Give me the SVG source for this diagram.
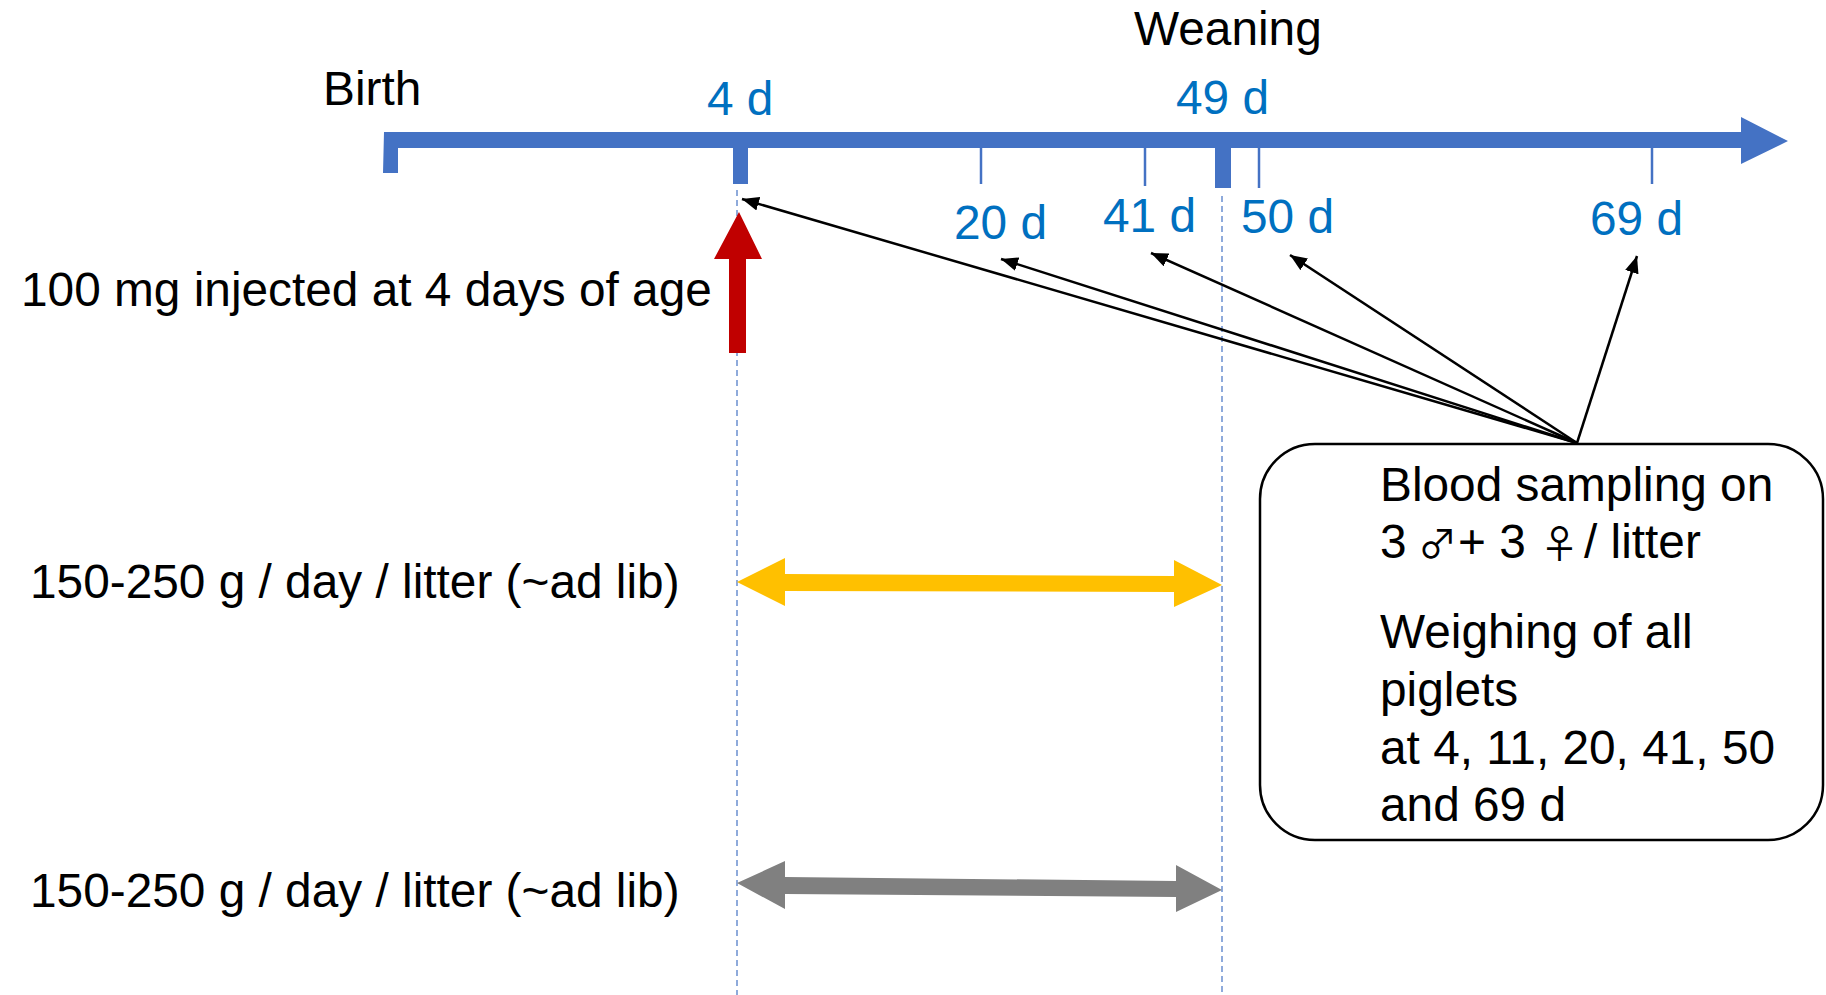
<svg xmlns="http://www.w3.org/2000/svg" width="1826" height="995" viewBox="0 0 1826 995">
  <style>
    text { font-family: "Liberation Sans", Arial, sans-serif; font-size: 47.8px; fill: #000; }
    .day { fill: #0070C0; }
    .sym { font-family: "Noto Sans CJK JP", "DejaVu Sans", sans-serif; font-size: 39px; }
    .guide { stroke: #4472C4; stroke-width: 1.2; stroke-dasharray: 6 4; fill: none; }
    .tick { stroke: #4472C4; stroke-width: 2.5; }
    .axis { fill: #4472C4; }
    .link { stroke: #000; stroke-width: 2.5; fill: none; marker-end: url(#head); }
  </style>
  <defs>
    <marker id="head" markerUnits="userSpaceOnUse" markerWidth="18" markerHeight="14" refX="17" refY="7" orient="auto">
      <path d="M0,0 L17,7 L0,14 z" fill="#000"/>
    </marker>
  </defs>
  <rect width="1826" height="995" fill="#fff"/>

  <!-- vertical guides at 4 d and weaning -->
  <g id="guides">
    <line class="guide" x1="737" y1="190" x2="737" y2="995"/>
    <line class="guide" x1="1222" y1="196" x2="1222" y2="995"/>
  </g>

  <!-- time axis -->
  <g id="timeline">
    <polygon class="axis" points="384,132 1741,132 1741,117 1788,141 1741,164 1741,148 398,148 398,173 383,173"/>
    <rect class="axis" x="733" y="146" width="15" height="38"/>
    <rect class="axis" x="1215" y="146" width="16" height="42"/>
    <line class="tick" x1="981" y1="147" x2="981" y2="184"/>
    <line class="tick" x1="1145" y1="147" x2="1145" y2="186"/>
    <line class="tick" x1="1259" y1="147" x2="1259" y2="188"/>
    <line class="tick" x1="1652" y1="147" x2="1652" y2="184"/>
    <text x="323" y="105">Birth</text>
    <text x="1134" y="45">Weaning</text>
    <text class="day" x="707" y="115">4 d</text>
    <text class="day" x="1176" y="114">49 d</text>
    <text class="day" x="954" y="239">20 d</text>
    <text class="day" x="1103" y="232">41 d</text>
    <text class="day" x="1241" y="233">50 d</text>
    <text class="day" x="1590" y="235">69 d</text>
  </g>

  <!-- sampling connectors -->
  <g id="connectors">
    <line class="link" x1="1577" y1="443" x2="742" y2="199"/>
    <line class="link" x1="1577" y1="443" x2="1001" y2="259"/>
    <line class="link" x1="1577" y1="443" x2="1151" y2="253"/>
    <line class="link" x1="1577" y1="443" x2="1290" y2="255"/>
    <line class="link" x1="1577" y1="443" x2="1637" y2="256"/>
  </g>

  <!-- injection -->
  <g id="injection">
    <polygon fill="#C00000" points="739,212 762,259 746,259 746,353 729,353 729,259 714,259"/>
    <text x="21" y="306">100 mg injected at 4 days of age</text>
  </g>

  <!-- feeding periods -->
  <g id="feed-yellow">
    <polygon fill="#FFC000" points="737,582 785,558 785,574 1174,576 1174,560 1222,585 1174,607 1174,592 785,591 785,606"/>
    <text x="30" y="598">150-250 g / day / litter (~ad lib)</text>
  </g>
  <g id="feed-grey">
    <polygon fill="#808080" points="737,883 785,861 785,877 1176,881 1176,865 1222,890 1176,912 1176,897 785,894 785,909"/>
    <text x="30" y="907">150-250 g / day / litter (~ad lib)</text>
  </g>

  <!-- sampling box -->
  <g id="sampling">
    <rect x="1260" y="444" width="563" height="396" rx="55" ry="55" fill="#fff" stroke="#000" stroke-width="2.5"/>
    <text x="1380" y="501">Blood sampling on</text>
    <text y="558"><tspan x="1380">3 </tspan><tspan class="sym" x="1418">♂</tspan><tspan x="1458">+ 3 </tspan><tspan class="sym" x="1540">♀</tspan><tspan x="1584">/ litter</tspan></text>
    <text x="1380" y="648">Weighing of all</text>
    <text x="1380" y="706">piglets</text>
    <text x="1380" y="764">at 4, 11, 20, 41, 50</text>
    <text x="1380" y="821">and 69 d</text>
  </g>
</svg>
